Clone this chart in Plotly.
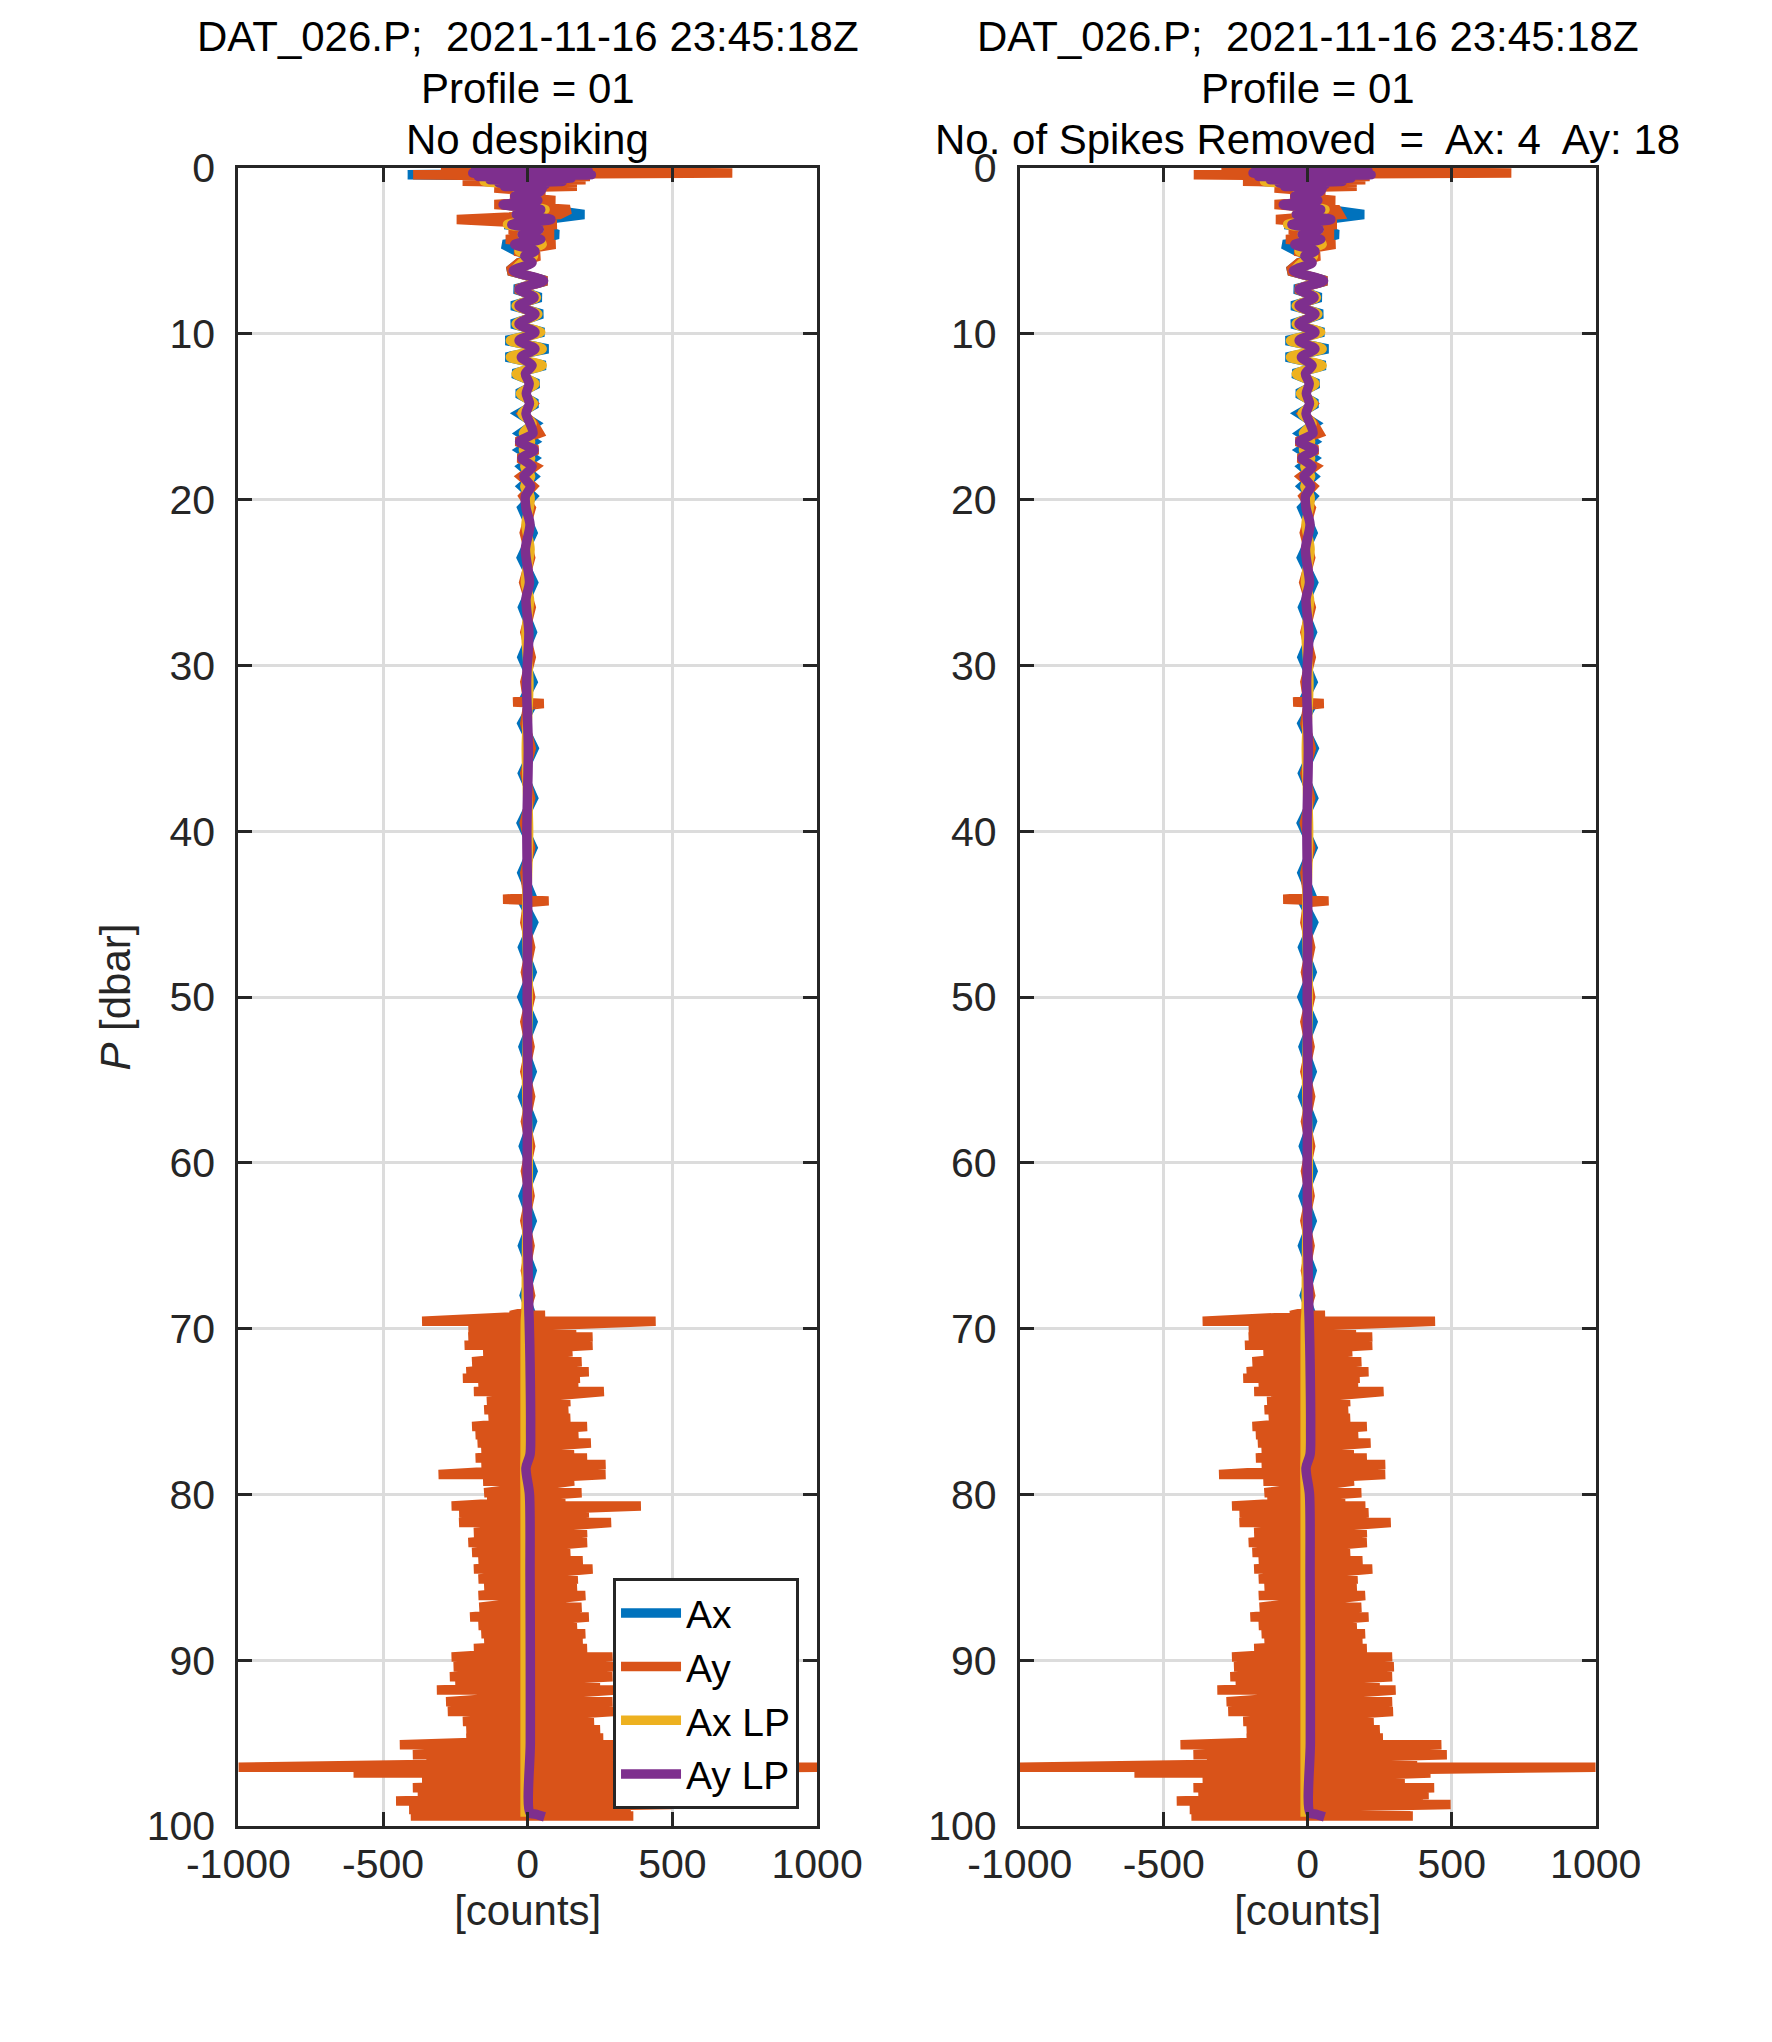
import plotly.graph_objects as go

# MATLAB default line colours
C_AX = "#0072BD"
C_AY = "#D95319"
C_AXLP = "#EDB120"
C_AYLP = "#7E2F8E"

TITLE_FILE = "DAT_026.P;  2021-11-16 23:45:18Z"
TITLE_PROFILE = "Profile = 01"
TITLE_LEFT = "No despiking"
TITLE_RIGHT = "No. of Spikes Removed  =  Ax: 4  Ay: 18"

X_TICKS = [-1000, -500, 0, 500, 1000]
X_TICKTEXT = ["-1000", "-500", "0", "500", "1000"]
Y_TICKS = [0, 10, 20, 30, 40, 50, 60, 70, 80, 90, 100]

# --- 0..20 dbar: shared pressure grid
P_TOP = [0.0, 0.1, 0.2, 0.3, 0.4, 0.5, 0.6, 0.7, 0.8, 0.9,
         1.0, 1.1, 1.2, 1.45, 1.7,
         1.95, 2.2, 2.5, 2.8, 3.1, 3.4, 3.7, 4.0, 4.3, 4.6,
         5.0, 5.3, 5.7, 6.2, 6.8, 7.3, 7.8, 8.3, 8.8, 9.4,
         9.9, 10.4, 10.9, 11.4, 11.9, 12.4, 13.0, 13.6, 14.2, 14.8,
         15.4, 16.0, 16.5, 17.0, 17.5, 18.0, 18.6, 19.2, 19.8]
AX_TOP = [50, -200, 190, 150, -415, 160, -170, 140, -170, 100,
          80, -70, -60, 55, -50,
          45, -90, 70, 195, 60, -80, 55, 105, 40, -85,
          -40, 30, -30, -65, 65, -45, 45, -55, 50, -55,
          55, -75, 70, -75, 60, -50, 35, -35, 30, -30,
          25, -25, 20, -25, 20, -20, 20, -20, 18]
AY_TOP = [330, -300, 250, 707, -396, 215, -225, 200, -225, 170,
          -115, 170, -115, 60, -60,
          95, -115, 145, 110, -245, 100, -65, 90, -75, 95,
          -45, 40, -30, -65, 65, -40, 35, -40, 35, -40,
          35, -40, 35, -32, 25, -20, 18, -18, 18, -18,
          20, 40, -38, 32, -30, 25, -22, 18, -15]
AXLP_TOP = [0, -150, 180, -140, 160, -120, 120, -150, -150, 60,
            -40, 50, -40, 40, -30,
            30, -75, 60, -40, 50, -70, 40, -20, 30, 50,
            -30, 20, -20, -45, 50, -30, 30, -40, 35, -40,
            45, -60, 50, -60, 50, -40, 25, -25, 20, -20,
            15, -15, 10, -15, 10, -10, 10, -10, 8]
AYLP_TOP = [20, -180, 210, -190, 220, -170, 150, -130, 120, -100,
            60, -80, 50, 40, -45,
            35, -85, 45, -40, 80, -55, 40, -20, 45, -45,
            25, -10, 15, -50, 55, -30, 22, -30, 25, -30,
            25, -30, 25, -22, 15, -8, 5, -5, 6, -6,
            8, 18, -28, 22, -20, 15, -13, 10, -8]

# spikes taken out in the despiked panel (pressure, new value)
AX_TOP_DESPIKED = [(0.4, -180)]
AY_TOP_DESPIKED = [(2.5, 100), (3.1, -110)]

# --- 20..69 dbar
P_MID = [20.5, 22.0, 23.5, 25.0, 26.5, 28.0, 29.5, 31.0, 32.1, 32.2,
         32.3, 32.4, 33.5, 35.0, 36.5, 38.0, 39.5, 41.0, 42.5, 44.0,
         44.1, 44.2, 44.3, 45.5, 47.0, 48.5, 50.0, 51.5, 53.0, 54.5,
         56.0, 57.5, 59.0, 60.5, 62.0, 63.5, 65.0, 66.5, 68.0, 69.0]
AX_MID = [-20, 18, -22, 20, -18, 16, -20, 18, -15, 12,
          -10, 15, -20, 22, -18, 20, -22, 18, -20, 16,
          -12, 10, -16, 20, -18, 15, -20, 18, -16, 15,
          -18, 16, -15, 18, -16, 15, -18, 15, -12, 10]
AY_MID = [12, -12, 10, -14, 12, -10, 12, -10, 0, -50,
          55, 0, -10, 12, -10, 10, -12, 10, -10, 0,
          -85, 72, 0, -10, 10, -8, 10, -10, 8, -10,
          10, -8, 10, -8, 8, -10, 8, -8, 10, -8]
P_MID_LP = [20.5, 21.5, 23.0, 25.0, 26.0, 28.0, 31.0, 35.0, 40.0, 45.0,
            50.0, 55.0, 60.0, 65.0, 69.0]
AXLP_MID = [5, -6, 8, -8, 6, -6, 4, -5, 3, -4, 2, -4, 2, -4, -6]
AYLP_MID = [-6, 8, -8, 6, -6, 4, -4, 2, -3, 0, -2, 0, -2, 0, 4]

# --- 69..100 dbar: Ay envelope (left / right extremes of the noisy signal)
P_BOT = [69.2, 69.55, 70.0, 70.5, 71.0, 71.4, 72.0, 72.6, 73.0, 73.5,
         73.8, 74.4, 74.9, 75.4, 75.9, 76.4, 76.9, 77.4, 77.8, 78.2,
         78.8, 79.2, 79.9, 80.3, 80.7, 81.1, 81.7, 82.3, 82.9, 83.5,
         84.0, 84.5, 85.1, 85.6, 86.1, 86.8, 87.4, 87.9, 88.4, 88.9,
         89.3, 89.8, 90.4, 91.0, 91.5, 91.8, 92.5, 93.1, 93.7, 94.2,
         94.7, 95.1, 95.7, 96.1, 96.45, 96.8, 97.3, 97.7, 98.1, 98.5,
         98.7, 99.0, 99.4]
AY_BOT_LEFT = [-60, -365, -205, -205, -218, -154, -192, -212, -224, -170,
               -186, -141, -150, -135, -192, -180, -173, -160, -180, -160,
               -308, -154, -150, -140, -263, -237, -237, -186, -205, -192,
               -170, -186, -170, -150, -170, -167, -199, -170, -160, -150,
               -186, -263, -256, -269, -250, -314, -282, -276, -224, -212,
               -212, -442, -397, -350, -1000, -602, -365, -397, -380, -455,
               -400, -410, -404]
AY_BOT_RIGHT = [60, 442, 167, 224, 224, 154, 186, 211, 180, 175,
                263, 147, 140, 147, 205, 175, 218, 160, 205, 269,
                269, 160, 186, 130, 391, 211, 288, 205, 205, 147,
                190, 224, 173, 170, 199, 186, 211, 170, 199, 190,
                205, 293, 299, 293, 250, 305, 293, 296, 229, 250,
                261, 464, 483, 380, 1000, 426, 337, 439, 420, 400,
                496, 356, 365]
AY_BOT_DESPIKED = [(80.7, -263, 200)]

P_AX_BOT = [70.0, 73.0, 76.0, 79.0, 82.0, 85.0, 88.0, 91.0, 94.0, 97.0, 99.4]
AX_BOT = [-12, 10, -15, 12, -10, 14, -12, 10, -14, 12, -5]
P_LP_BOT = [69.5, 72.0, 76.0, 77.6, 78.4, 80.0, 85.0, 90.0, 95.0, 99.2, 99.3, 99.45]
AXLP_BOT = [-8, -9, -9, -9, -10, -9, -9, -9, -9, -9, -9, -9]
AYLP_BOT = [5, 8, 10, 8, -6, 6, 8, 9, 9, 8, 30, 58]


def patch(p_list, v_list, fixes):
    vals = list(v_list)
    for p, v in fixes:
        vals[p_list.index(p)] = v
    return vals


def zigzag(p_list, left, right):
    xs, ys = [], []
    for p, lo, hi in zip(p_list, left, right):
        xs += [lo, hi]
        ys += [p, p]
    return xs, ys


def panel_series(despiked):
    ax_top = patch(P_TOP, AX_TOP, AX_TOP_DESPIKED) if despiked else AX_TOP
    ay_top = patch(P_TOP, AY_TOP, AY_TOP_DESPIKED) if despiked else AY_TOP
    left, right = list(AY_BOT_LEFT), list(AY_BOT_RIGHT)
    if despiked:
        for p, lo, hi in AY_BOT_DESPIKED:
            i = P_BOT.index(p)
            left[i], right[i] = lo, hi
    bx, by = zigzag(P_BOT, left, right)
    return [
        ("Ax", C_AX, ax_top + AX_MID + AX_BOT, P_TOP + P_MID + P_AX_BOT, "linear"),
        ("Ay", C_AY, ay_top + AY_MID + bx, P_TOP + P_MID + by, "linear"),
        ("Ax LP", C_AXLP, AXLP_TOP + AXLP_MID + AXLP_BOT, P_TOP + P_MID_LP + P_LP_BOT, "spline"),
        ("Ay LP", C_AYLP, AYLP_TOP + AYLP_MID + AYLP_BOT, P_TOP + P_MID_LP + P_LP_BOT, "spline"),
    ]


FONT = "Liberation Sans, Arial, Helvetica, sans-serif"
INK = "#262626"
LW = 9.5

fig = go.Figure()
for k, despiked in enumerate([False, True]):
    xa = "x" if k == 0 else "x2"
    ya = "y" if k == 0 else "y2"
    for name, color, xs, ys, shape in panel_series(despiked):
        fig.add_trace(go.Scatter(
            x=xs, y=ys, mode="lines", name=name,
            line=dict(color=color, width=LW, shape=shape, smoothing=0.8),
            showlegend=(k == 0), xaxis=xa, yaxis=ya,
        ))

axis_common = dict(
    showline=True, linecolor=INK, linewidth=3, mirror="ticks",
    ticks="inside", ticklen=14, tickwidth=3, tickcolor=INK,
    showgrid=True, gridcolor="#dcdcdc", gridwidth=2.5,
    zeroline=False, tickfont=dict(family=FONT, size=41, color=INK),
    automargin=False,
)
xdef = dict(axis_common, range=[-1000, 1000], tickvals=X_TICKS, ticktext=X_TICKTEXT,
            ticklabelstandoff=0,
            title=dict(text="[counts]", font=dict(family=FONT, size=42, color=INK), standoff=6))
ydef = dict(axis_common, range=[100, 0], tickvals=Y_TICKS, ticklabelstandoff=12)

fig.update_layout(
    width=1772, height=2042,
    paper_bgcolor="white", plot_bgcolor="white",
    margin=dict(l=0, r=0, t=0, b=0, autoexpand=False),
    xaxis=dict(xdef, domain=[0.130, 0.4566], anchor="y"),
    yaxis=dict(ydef, domain=[0.1097, 0.9216], anchor="x",
               title=dict(text="<i>P</i> [dbar]", font=dict(family=FONT, size=42, color=INK), standoff=4)),
    xaxis2=dict(xdef, domain=[0.571, 0.896], anchor="y2"),
    yaxis2=dict(ydef, domain=[0.1097, 0.9216], anchor="x2"),
    showlegend=True,
    legend=dict(
        x=0.4464, y=0.118, xanchor="right", yanchor="bottom",
        bgcolor="white", bordercolor=INK, borderwidth=3,
        font=dict(family=FONT, size=39, color="black"),
        tracegroupgap=0, itemwidth=60,
    ),
)

centers = [(0.130 + 0.4566) / 2, (0.571 + 0.896) / 2]
title_rows = [0.9862, 0.9607, 0.9358]
for cx, last in zip(centers, [TITLE_LEFT, TITLE_RIGHT]):
    for ty, txt in zip(title_rows, [TITLE_FILE, TITLE_PROFILE, last]):
        fig.add_annotation(
            x=cx, y=ty, xref="paper", yref="paper", text=txt, showarrow=False,
            xanchor="center", yanchor="middle",
            font=dict(family=FONT, size=42, color="black"),
        )

fig.write_html("out.html")
